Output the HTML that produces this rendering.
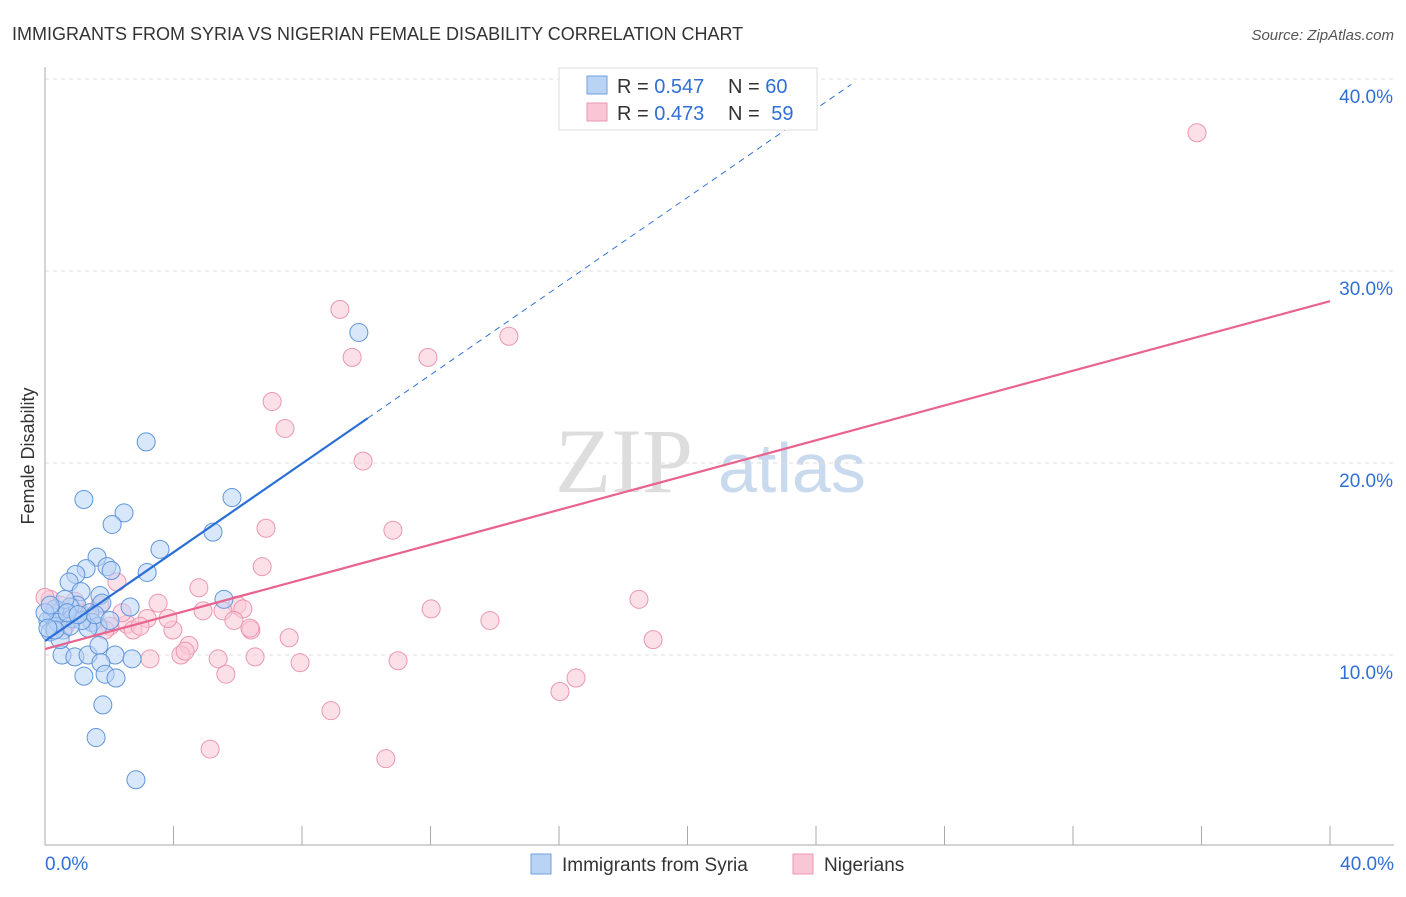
<!DOCTYPE html>
<html><head><meta charset="utf-8"><style>
body{margin:0;background:#fff;font-family:"Liberation Sans",sans-serif}
</style></head><body>
<svg width="1406" height="892" xmlns="http://www.w3.org/2000/svg" font-family="Liberation Sans, sans-serif">
<text x="12" y="40" font-size="18" fill="#333">IMMIGRANTS FROM SYRIA VS NIGERIAN FEMALE DISABILITY CORRELATION CHART</text>
<text x="1394" y="40" font-size="15" fill="#555" text-anchor="end" font-style="italic">Source: ZipAtlas.com</text>
<text transform="translate(34,456) rotate(-90)" font-size="18" fill="#333" text-anchor="middle">Female Disability</text>
<g><text x="555" y="492" font-size="92" fill="#ddd" font-family="Liberation Serif, serif">ZIP</text><text x="718" y="492" font-size="70" fill="#c9d9ee">atlas</text></g>
<g id="grid"></g><g id="axes"></g><g id="marks"></g>
<g>
<rect x="559" y="68" width="258" height="62" fill="#fff" stroke="#ddd"/>
<rect x="587" y="76" width="20" height="18" fill="#b9d3f5" stroke="#6fa0e0"/>
<rect x="587" y="103" width="20" height="18" fill="#f9c6d5" stroke="#ec96b2"/>
<text x="617" y="93" font-size="20" fill="#333">R = <tspan fill="#2f6fd6">0.547</tspan></text>
<text x="728" y="93" font-size="20" fill="#333">N = <tspan fill="#2f6fd6">60</tspan></text>
<text x="617" y="120" font-size="20" fill="#333">R = <tspan fill="#2f6fd6">0.473</tspan></text>
<text x="728" y="120" font-size="20" fill="#333">N =  <tspan fill="#2f6fd6" dx="6">59</tspan></text>
</g>
<g>
<rect x="531" y="854" width="20" height="20" fill="#b9d3f5" stroke="#6fa0e0"/>
<text x="562" y="871" font-size="19" fill="#333">Immigrants from Syria</text>
<rect x="793" y="854" width="20" height="20" fill="#f9c6d5" stroke="#ec96b2"/>
<text x="824" y="871" font-size="19" fill="#333">Nigerians</text>
</g>
</svg>
<script>
const yTicks=[10,20,30,40];
const yTickLabels=["10.0%","20.0%","30.0%","40.0%"];
const xTicks=[0,4,8,12,16,20,24,28,32,36,40];
const blueX=[3.15,1.21,2.46,2.09,5.82,5.23,3.58,1.62,1.28,1.93,2.06,3.18,0.96,0.75,1.12,1.71,2.65,5.57,1.77,0.99,0.78,1.40,1.46,1.65,1.34,0.47,0.22,0.09,0.31,0.56,0.16,0.53,0.93,1.34,1.68,2.18,2.71,1.74,1.87,2.21,1.21,1.80,1.59,2.83,9.77,0.31,0.62,0.84,0.40,1.15,0.00,0.16,0.47,0.78,1.56,2.02,0.31,0.69,1.03,0.09];
const blueY=[21.1,18.1,17.4,16.8,18.2,16.4,15.5,15.1,14.5,14.6,14.4,14.3,14.2,13.8,13.3,13.1,12.5,12.9,12.7,12.6,12.5,12.2,11.7,11.5,11.4,12.3,12.0,11.8,11.5,11.3,11.2,10.0,9.9,10.0,10.5,10.0,9.8,9.6,9.0,8.8,8.9,7.4,5.7,3.5,26.8,12.4,12.9,11.9,11.7,11.8,12.2,12.6,10.8,11.5,12.1,11.8,11.3,12.2,12.1,11.4];
const pinkX=[35.86,9.18,14.44,9.56,11.92,7.07,7.47,9.90,6.88,10.83,6.76,2.24,4.79,3.52,4.92,5.98,6.16,5.54,12.02,18.49,13.85,18.93,3.98,3.18,3.83,2.55,2.74,2.02,1.87,4.48,4.23,5.39,6.54,7.94,10.99,5.88,6.41,7.60,5.63,8.90,5.14,10.61,16.03,16.53,3.27,2.40,1.71,1.09,0.47,0.16,0.78,1.40,0.31,0.00,0.62,0.93,2.96,4.36,6.38];
const pinkY=[37.2,28.0,26.6,25.5,25.5,23.2,21.8,20.1,16.6,16.5,14.6,13.8,13.5,12.7,12.3,12.6,12.4,12.3,12.4,12.9,11.8,10.8,11.3,11.9,11.9,11.6,11.3,11.5,11.3,10.5,10.0,9.8,9.9,9.6,9.7,11.8,11.3,10.9,9.0,7.1,5.1,4.6,8.1,8.8,9.8,12.2,12.6,12.2,12.6,12.9,11.8,11.9,12.1,13.0,11.5,12.8,11.5,10.2,11.4];
const blueFit=[10.73,1.155], pinkFit=[10.31,0.453];
const X=v=>45+v*32.125, Y=v=>655-(v-10)*19.2;
const NS="http://www.w3.org/2000/svg";
function mk(t,a,p){const e=document.createElementNS(NS,t);for(const k in a)e.setAttribute(k,a[k]);p.appendChild(e);return e;}
const grid=document.getElementById('grid'),axes=document.getElementById('axes'),marks=document.getElementById('marks');
yTicks.forEach((t,i)=>{
 const l=mk('line',{x1:45,x2:1394,y1:Y(t),y2:Y(t),stroke:'#ddd','stroke-dasharray':'4,4'},grid);
 
 
 const tx=mk('text',{x:1393,y:Y(t)+24,'font-size':19,fill:'#2f6fd6','text-anchor':'end'},axes);
 tx.textContent=yTickLabels[i];
 
 
});
const ax=mk('line',{x1:45,x2:45,y1:67,y2:845,stroke:'#aaa'},axes);


const bx=mk('line',{x1:45,x2:1394,y1:845,y2:845,stroke:'#aaa'},axes);


xTicks.forEach(t=>{const l=mk('line',{x1:X(t),x2:X(t),y1:826,y2:845,stroke:'#aaa'},axes);
 
 });
[[45,'start','0.0%'],[1394,'end','40.0%']].forEach(d=>{const t=mk('text',{x:d[0],y:870,'font-size':19,fill:'#2f6fd6','text-anchor':d[1]},axes);t.textContent=d[2];
 
 });
function dots(xs,ys,fill,stroke,name){xs.forEach((x,i)=>{const c=mk('circle',{cx:X(x),cy:Y(ys[i]),r:9,fill:fill,'fill-opacity':0.55,stroke:stroke,'stroke-width':1},marks);
 
 });}
dots(pinkX,pinkY,'#f9c6d5','#ec96b2','nigerian-point');
dots(blueX,blueY,'#b9d3f5','#5f95dc','syria-point');
const f=(p,x)=>p[0]+p[1]*x;
const bl=mk('line',{x1:X(0),y1:Y(f(blueFit,0)),x2:X(10.05),y2:Y(f(blueFit,10.05)),stroke:'#2a6fd6','stroke-width':2.2},marks);


const bd=mk('line',{x1:X(10.05),y1:Y(f(blueFit,10.05)),x2:X(25.1),y2:Y(f(blueFit,25.1)),stroke:'#2a6fd6','stroke-width':1,'stroke-dasharray':'6,5'},marks);


const pl=mk('line',{x1:X(0),y1:Y(f(pinkFit,0)),x2:X(40),y2:Y(f(pinkFit,40)),stroke:'#e8648e','stroke-width':2.2},marks);


</script>
</body></html>
